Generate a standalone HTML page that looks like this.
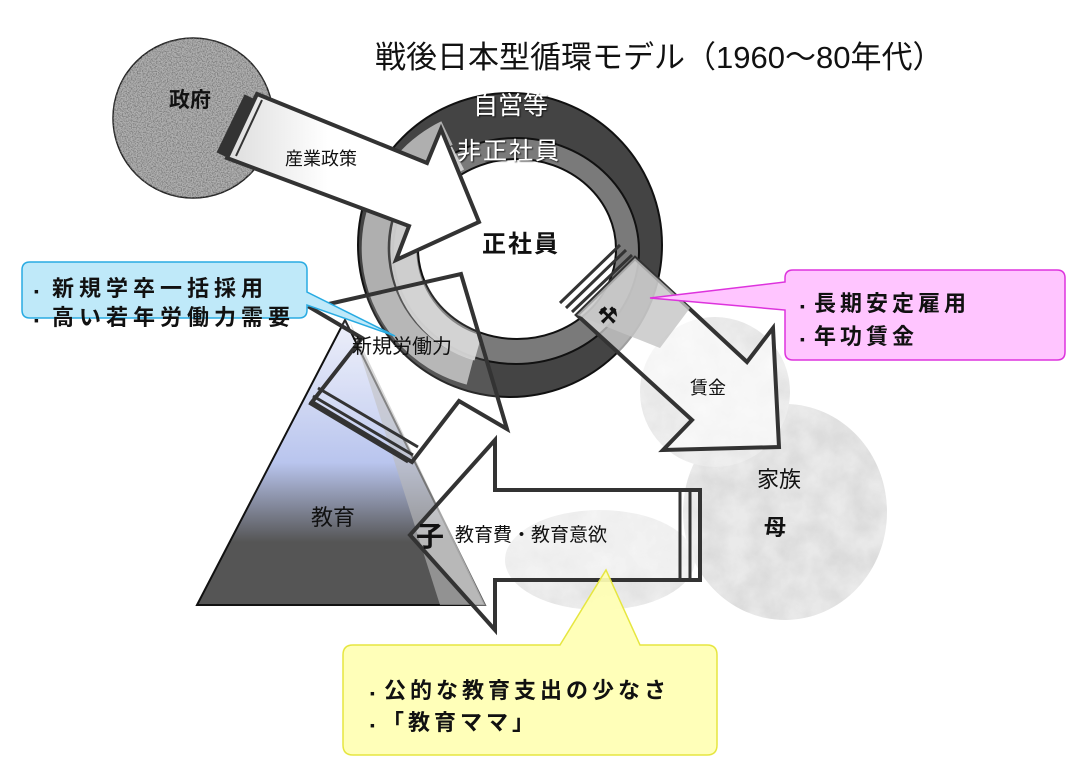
<!DOCTYPE html>
<html><head><meta charset="utf-8"><style>
html,body{margin:0;padding:0;background:#fff;}
svg{display:block;}
text{font-family:"Liberation Sans","Noto Sans CJK JP",sans-serif;}
</style></head><body>
<svg width="1085" height="780" viewBox="0 0 1085 780" xmlns="http://www.w3.org/2000/svg">
<defs>
<filter id="noise" x="0" y="0" width="100%" height="100%">
<feTurbulence type="fractalNoise" baseFrequency="0.8" numOctaves="2" seed="3"/>
<feColorMatrix type="matrix" values="0 0 0 0 0.2  0 0 0 0 0.2  0 0 0 0 0.2  0 0 0 3 -1.2"/>
<feComposite in2="SourceGraphic" operator="in"/>
</filter>
<filter id="marble" x="0" y="0" width="100%" height="100%">
<feTurbulence type="fractalNoise" baseFrequency="0.04" numOctaves="4" seed="7"/>
<feColorMatrix type="matrix" values="0 0 0 0 0.5  0 0 0 0 0.5  0 0 0 0 0.5  0 0 0 0.9 -0.2"/>
<feComposite in2="SourceGraphic" operator="in"/>
</filter>
<filter id="sh"><feDropShadow dx="1" dy="1" stdDeviation="0.8" flood-color="#000" flood-opacity="0.8"/></filter>
<linearGradient id="tri" x1="0" y1="0" x2="0" y2="1">
<stop offset="0" stop-color="#eef0fa"/>
<stop offset="0.5" stop-color="#b9c5ee"/>
<stop offset="0.78" stop-color="#555"/>
<stop offset="1" stop-color="#555"/>
</linearGradient>
<linearGradient id="gov" x1="0" y1="0" x2="1" y2="0">
<stop offset="0" stop-color="#ddd"/><stop offset="0.4" stop-color="#fff"/><stop offset="1" stop-color="#fff"/>
</linearGradient>
</defs>

<!-- government circle -->
<circle cx="193" cy="118" r="80" fill="#b0b0b0" stroke="#222" stroke-width="1.5"/>
<circle cx="193" cy="118" r="80" fill="#fff" filter="url(#noise)"/>

<!-- marble ellipses -->
<ellipse cx="785" cy="512" rx="102" ry="108" fill="#eaeaea"/>
<ellipse cx="785" cy="512" rx="102" ry="108" fill="#fff" filter="url(#marble)" opacity="0.6"/>
<ellipse cx="715" cy="392" rx="75" ry="75" fill="#efefef"/>
<ellipse cx="715" cy="392" rx="75" ry="75" fill="#fff" filter="url(#marble)" opacity="0.4"/>
<ellipse cx="600" cy="560" rx="95" ry="50" fill="#eeeeee"/>
<ellipse cx="600" cy="560" rx="95" ry="50" fill="#fff" filter="url(#marble)" opacity="0.4"/>

<!-- triangle 教育 -->
<polygon points="197,605 345,320 485,605" fill="url(#tri)" stroke="#111" stroke-width="2"/>
<polygon points="350,322 485,605 440,605" fill="#bbb" opacity="0.6"/>

<!-- ring -->
<circle cx="510" cy="245" r="152" fill="#444" stroke="#111" stroke-width="2"/>
<ellipse cx="516" cy="251" rx="123" ry="113" fill="#7a7a7a" stroke="#111" stroke-width="2"/>
<ellipse cx="517" cy="249" rx="99" ry="90" fill="#fff" stroke="#111" stroke-width="2"/>

<!-- light gray circular band -->
<path d="M 447 133 A 128 128 0 0 0 470 372" fill="none" stroke="#b5b5b5" stroke-width="26" opacity="0.95"/>
<path d="M 458 158 A 103 103 0 0 0 478 348" fill="none" stroke="#d3d3d3" stroke-width="26" opacity="0.95"/>

<!-- arrow 1 産業政策 -->
<polygon points="257,94 427,163 441,129 479,222 396,260 409,226 227,158" fill="url(#gov)" stroke="#333" stroke-width="4" stroke-linejoin="miter"/>
<line x1="250" y1="97" x2="222" y2="155" stroke="#333" stroke-width="12"/>
<line x1="262" y1="100" x2="236" y2="156" stroke="#333" stroke-width="2"/>

<!-- arrow 2 新規労働力 -->
<polygon points="312,402 362,338 311,308 461,274 507,429 459,401 412,462" fill="#fff" fill-opacity="0.1" stroke="#333" stroke-width="4"/>
<line x1="318" y1="388" x2="418" y2="447" stroke="#333" stroke-width="3"/>
<line x1="313" y1="396" x2="413" y2="455" stroke="#333" stroke-width="3"/>
<line x1="309" y1="403" x2="408" y2="462" stroke="#333" stroke-width="3"/>

<!-- arrow 3 賃金 -->
<polygon points="635,258 747,362 773,328 779,447 663,450 692,420 577,315" fill="#fff" fill-opacity="0.6" stroke="#333" stroke-width="4"/>
<polygon points="635,258 690,308 660,348 577,315" fill="#c4c4c4" opacity="0.8"/>
<line x1="560" y1="303" x2="620" y2="245" stroke="#333" stroke-width="3"/>
<line x1="566" y1="308" x2="626" y2="250" stroke="#333" stroke-width="3"/>
<line x1="572" y1="312" x2="632" y2="255" stroke="#333" stroke-width="3"/>

<!-- arrow 4 教育費 -->
<polygon points="700,490 495,490 495,440 410,535 495,630 495,580 700,580" fill="#fff" fill-opacity="0.35" stroke="#333" stroke-width="4"/>
<line x1="680" y1="490" x2="680" y2="580" stroke="#333" stroke-width="3"/>
<line x1="690" y1="490" x2="690" y2="580" stroke="#333" stroke-width="3"/>
<line x1="700" y1="490" x2="700" y2="580" stroke="#333" stroke-width="3"/>

<!-- callouts -->
<path d="M30,262 H299 Q307,262 307,270 V292 L395,336 L307,305 V310 Q307,318 299,318 H30 Q22,318 22,310 V270 Q22,262 30,262 Z" fill="#bfe9f9" stroke="#29abe2" stroke-width="1.5"/>
<path d="M793,270 H1057 Q1065,270 1065,278 V352 Q1065,360 1057,360 H793 Q785,360 785,352 V310 L650,298 L785,282 V278 Q785,270 793,270 Z" fill="#ffc5ff" stroke="#dd33dd" stroke-width="1.5"/>
<path d="M353,645 H560 L606,570 L640,645 H707 Q717,645 717,655 V745 Q717,755 707,755 H353 Q343,755 343,745 V655 Q343,645 353,645 Z" fill="#ffffb3" stroke="#e6e640" stroke-width="1.5" fill-opacity="0.92"/>

<!-- texts -->
<text x="375" y="68" font-size="31" fill="#111">戦後日本型循環モデル（1960～80年代）</text>
<text x="169" y="107" font-size="21" font-weight="bold" fill="#111">政府</text>
<text x="285" y="165" font-size="18" fill="#111">産業政策</text>
<text x="473" y="114" font-size="25" fill="#fff" filter="url(#sh)">自営等</text>
<text x="457" y="159" font-size="24" fill="#fff" filter="url(#sh)" letter-spacing="2">非正社員</text>
<text x="482" y="252" font-size="24" font-weight="bold" fill="#111" letter-spacing="2">正社員</text>
<text x="352" y="353" font-size="20" fill="#111">新規労働力</text>
<text x="598" y="323" font-size="22" font-weight="bold" fill="#111">⚒</text>
<text x="690" y="394" font-size="18" fill="#111">賃金</text>
<text x="757" y="487" font-size="22" fill="#111">家族</text>
<text x="764" y="535" font-size="22" font-weight="bold" fill="#111">母</text>
<text x="311" y="525" font-size="22" fill="#111">教育</text>
<text x="416" y="546" font-size="28" font-weight="bold" fill="#111">子</text>
<text x="455" y="541" font-size="19" fill="#111">教育費・教育意欲</text>

<text x="34" y="296" font-size="22" font-weight="bold" fill="#111" letter-spacing="5"><tspan font-size="14" letter-spacing="0">▪</tspan><tspan x="52">新規学卒一括採用</tspan></text>
<text x="34" y="325" font-size="22" font-weight="bold" fill="#111" letter-spacing="5"><tspan font-size="14" letter-spacing="0">▪</tspan><tspan x="52">高い若年労働力需要</tspan></text>
<text x="800" y="311" font-size="22" font-weight="bold" fill="#111" letter-spacing="4"><tspan font-size="14" letter-spacing="0">▪</tspan><tspan x="814">長期安定雇用</tspan></text>
<text x="800" y="344" font-size="22" font-weight="bold" fill="#111" letter-spacing="4"><tspan font-size="14" letter-spacing="0">▪</tspan><tspan x="814">年功賃金</tspan></text>
<text x="370" y="698" font-size="22" font-weight="bold" fill="#111" letter-spacing="4"><tspan font-size="14" letter-spacing="0">▪</tspan><tspan x="384">公的な教育支出の少なさ</tspan></text>
<text x="370" y="730" font-size="22" font-weight="bold" fill="#111" letter-spacing="4"><tspan font-size="14" letter-spacing="0">▪</tspan><tspan x="382">「教育ママ」</tspan></text>
</svg>
</body></html>
